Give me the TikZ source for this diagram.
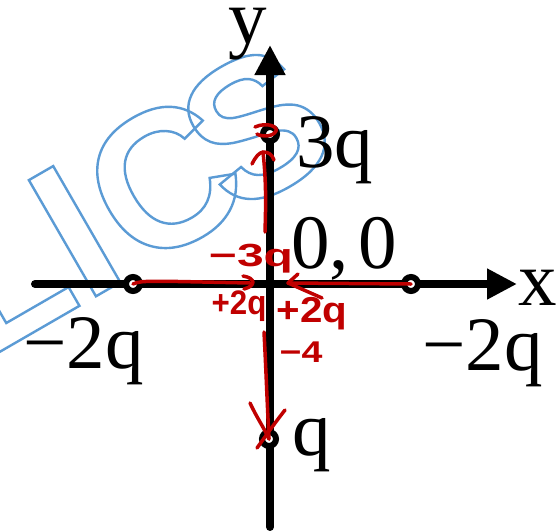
\documentclass[tikz,border=0pt]{standalone}
\usepackage{fontspec}
\setmainfont{Liberation Serif}
\newfontfamily\wmfont{Liberation Sans Bold}
\newfontfamily\handfont{Liberation Sans Bold}
\usetikzlibrary{arrows.meta,calc}
\definecolor{wmblue}{RGB}{91,155,213}
\definecolor{inkred}{RGB}{192,0,0}
\newcommand\outlinetext[1]{\special{pdf:literal direct 1 Tr 2.4 w}#1\special{pdf:literal direct 0 Tr}}
\begin{document}
\begin{tikzpicture}[x=1pt,y=-1pt,
  axisline/.style={line width=8pt, line cap=round, -{Triangle[length=30pt,width=29pt]}},
  charge/.style={circle, draw=black, fill=white, line width=6pt, minimum size=14pt, inner sep=0pt},
  lbl/.style={inner sep=0pt, anchor=base west, font=\fontsize{77}{77}\selectfont},
  wm/.style={inner sep=0pt, rotate=30, anchor=base west, text=wmblue, font=\wmfont\fontsize{195}{195}\selectfont},
  pen/.style={draw=inkred, line width=3.5pt, line cap=round, line join=round},
  hand/.style={inner sep=0pt, text=inkred}
]
\fill[white] (0,0) rectangle (559,530);
\useasboundingbox (0,0) rectangle (559,530);
% watermark
\begin{scope}
\clip (0,0) rectangle (559,530);
\node[wm] (wmark) at (-18.7,362.5) {\outlinetext{L\kern0pt I\kern5.5pt C\kern-30pt S}};
\end{scope}
% axes
\coordinate (O) at (270,284);
\coordinate (xs) at (35,284);
\coordinate (xe) at (517,284);
\coordinate (ys) at (270,527);
\coordinate (ye) at (270,45);
\draw[axisline] (xs) -- (xe);
\draw[axisline] (ys) -- (ye);
% charges
\node[charge] (qL) at (133,284) {};
\node[charge] (qR) at (411,284) {};
\node[charge] (qT) at (270,134) {};
\node[charge] (qB) at (269,439) {};
% labels
\node[lbl, anchor=base] (ly) at (248,43) {y};
\node[lbl] (lx) at (518,305) {x};
\node[lbl] (l3q) at (296,167) {3q};
\node[lbl] (l00) at (291,268) {0,\kern10pt0};
\node[lbl] (lL) at (23,368) {−2q};
\node[lbl] (lR) at (422,370) {−2q};
\node[lbl] (lq) at (292,455) {q};
% red field arrows
\draw[pen] (qL.center) .. controls (142,280) and (150,281) .. ($(O)+(-20,-1)$);
\draw[pen] (243,276) .. controls (256,278) and (256,286) .. (244,289);
\draw[pen] (qR.center) -- ($(O)+(18,-1)$);
\draw[pen] (298,274) -- ($(O)+(18,-1)$) -- (322,298);
\draw[pen] ($(O)+(-5,-52)$) .. controls (266,200) and (266,180) .. ($(qT.center)+(-7,18)$);
\draw[pen] (252,164) .. controls (256,156) and (259,153) .. (263,152) .. controls (268,152) and (272,154) .. (274,160);
\draw[pen] (255,127) .. controls (266,122) and (278,126) .. (276,131) .. controls (273,137) and (262,137) .. (257,134);
\draw[pen] ($(O)+(-6,48)$) .. controls (266,370) and (267,400) .. (qB.center);
\draw[pen] (250,403) .. controls (257,418) and (263,426) .. (qB.center);
\draw[pen] (285,410) .. controls (274,424) and (265,437) .. (257,448);
% handwritten values
\node[hand, font=\handfont\fontsize{32}{32}\selectfont] (t3) at (251,259) {\scalebox{1.5}[1]{−3q}};
\node[hand, font=\handfont\fontsize{34}{34}\selectfont] (t2L) at (239,306) {\scalebox{0.92}[1]{+2q}};
\node[hand, font=\handfont\fontsize{36}{36}\selectfont] (t2R) at (312,314) {\scalebox{1.12}[1]{+2q}};
\node[hand, font=\handfont\fontsize{30}{30}\selectfont] (t4) at (301,352) {\scalebox{1.25}[1]{−4}};
\end{tikzpicture}
\end{document}
